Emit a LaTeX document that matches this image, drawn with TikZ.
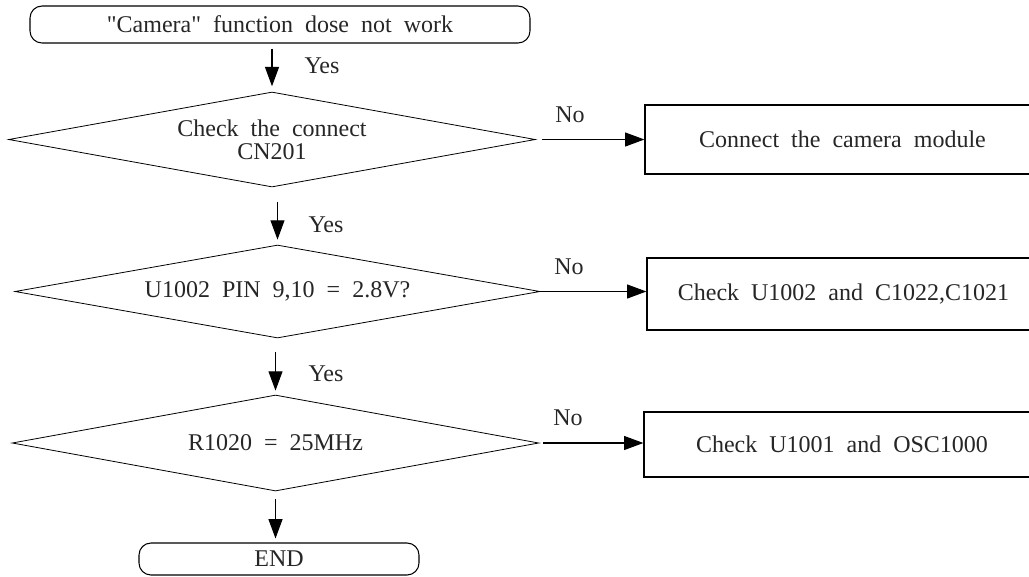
\documentclass[tikz,border=0pt]{standalone}
\usepackage{fontspec}
\setmainfont{Liberation Serif}[Ligatures=TeXOff, WordSpace=2.0]
\usetikzlibrary{shapes.geometric,arrows.meta}
\begin{document}
\begin{tikzpicture}[x=0.75pt,y=-0.75pt,
 every node/.style={font=\fontsize{18}{17.5}\selectfont, text=black!85, inner sep=0pt},
 term/.style={draw, rectangle, rounded corners=9pt, line width=0.8pt},
 dec/.style={draw, diamond, line width=0.6pt, align=center, aspect=5.55},
 act/.style={draw, rectangle, line width=0.9pt},
 arr/.style={-{Triangle[length=14.5pt,width=10.5pt]}, line width=0.8pt}]
\useasboundingbox (0,0) rectangle (1029,576);

\node[term, minimum width=375pt, minimum height=27.75pt] (start) at (280,24.5) {"Camera" function dose not work};
\node[dec, minimum width=395pt, minimum height=71.25pt] (d1) at (272,139.5) {Check the connect\\CN201};
\node[dec, minimum width=393.75pt, minimum height=69.75pt] (d2) at (277.5,291.5) {U1002 PIN 9,10 = 2.8V?};
\node[dec, minimum width=395pt, minimum height=72pt] (d3) at (275.5,443) {R1020 = 25MHz};
\node[term, minimum width=210pt, minimum height=24pt] (end) at (279,559) {END};

\node[act, minimum width=296.25pt, minimum height=51.75pt] (b1) at (842.5,139.5) {Connect the camera module};
\node[act, minimum width=294.75pt, minimum height=54pt] (b2) at (843.5,294) {Check U1002 and C1022,C1021};
\node[act, minimum width=297pt, minimum height=48.75pt] (b3) at (842,444.5) {Check U1001 and OSC1000};

\node (y1) at (322,66) {Yes};
\node (y2) at (326,225) {Yes};
\node (y3) at (326,374) {Yes};
\node (n1) at (570,115) {No};
\node (n2) at (569,267) {No};
\node (n3) at (568,418) {No};

\draw[arr, shorten <=3.75pt, shorten >=4pt] (start.south -| d1.north) -- (d1.north);
\draw[arr, shorten <=11.25pt, shorten >=3.75pt] (d1.south -| d2.north) -- (d2.north);
\draw[arr, shorten <=10.5pt, shorten >=3pt] (d2.south -| d3.north) -- (d3.north);
\draw[arr, shorten <=6pt, shorten >=3pt] (d3.south) -- (d3.south |- end.north);

\draw[arr, shorten <=5pt] (d1.east) -- (d1.east -| b1.west);
\draw[arr] (d2.east) -- (d2.east -| b2.west);
\draw[arr, shorten <=3pt] (d3.east) -- (d3.east -| b3.west);
\end{tikzpicture}
\end{document}
